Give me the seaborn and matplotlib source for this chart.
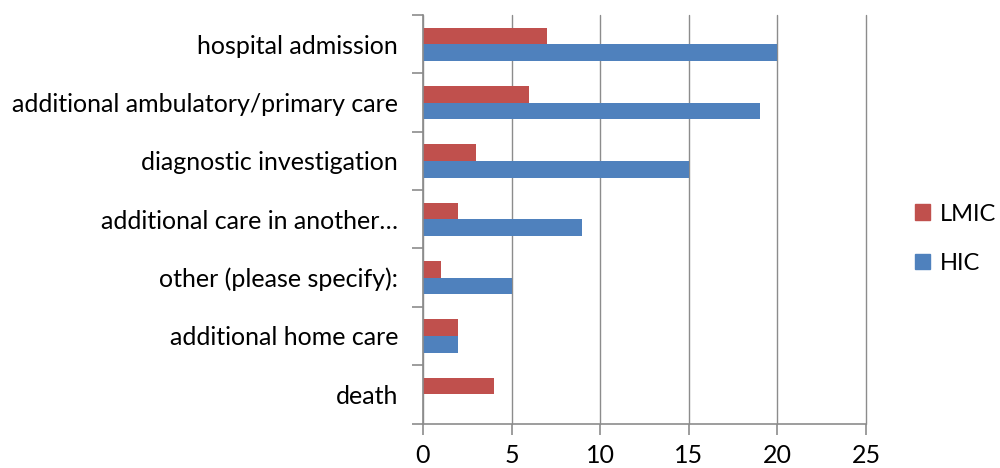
import pandas as pd
import numpy as np
import matplotlib.pyplot as plt
import seaborn as sns
from matplotlib.patches import Patch

categories = ["hospital admission", "additional ambulatory/primary care", "diagnostic investigation",
              "additional care in another…", "other (please specify):", "additional home care", "death"]
lmic = [7, 6, 3, 2, 1, 2, 4]
hic = [20, 19, 15, 9, 5, 2, 0]
groups = ["LMIC", "HIC"]
colors = {"LMIC": "#C0504D", "HIC": "#4F81BD"}

df = pd.DataFrame({
    "category": categories * 2,
    "group": ["LMIC"] * len(categories) + ["HIC"] * len(categories),
    "value": lmic + hic,
})

sns.set_style("white")
plt.rcParams['font.family'] = ['Lato', 'DejaVu Sans']
plt.rcParams['text.color'] = 'black'
plt.rcParams['xtick.labelcolor'] = 'black'
plt.rcParams['ytick.labelcolor'] = 'black'

fig = plt.figure(figsize=(10, 4.68), dpi=100)
ax = fig.add_axes([0.423, 0.095, 0.443, 0.873])

sns.barplot(data=df, x="value", y="category", hue="group", hue_order=groups,
            order=categories, palette=colors, width=0.57, ax=ax, legend=False,
            saturation=1, linewidth=0)

ax.set_xlim(0, 25)
ax.set_xticks(np.arange(0, 26, 5))
ax.xaxis.grid(True, color="#8c8c8c", linewidth=1)
ax.set_axisbelow(True)
for gl in ax.get_xgridlines():
    gl.set_clip_on(False)
ax.set_xlabel("")
ax.set_ylabel("")

for s in ["top", "right"]:
    ax.spines[s].set_visible(False)
for s in ["left", "bottom"]:
    ax.spines[s].set_color("#8c8c8c")
    ax.spines[s].set_linewidth(1.2)

# category ticks sit at the group boundaries, labels in between
n = len(categories)
ax.set_ylim(n - 0.5, -0.5)
ax.set_yticks(np.arange(-0.5, n, 1.0), minor=False)
ax.set_yticklabels([])
ax.set_yticks(np.arange(n), minor=True)
ax.set_yticklabels(categories, minor=True, fontsize=18)
ax.tick_params(axis="y", which="major", length=8, color="#8c8c8c", width=1.2, left=True)
ax.tick_params(axis="y", which="minor", length=0, pad=18, labelcolor="black")
ax.tick_params(axis="x", length=8, color="#8c8c8c", width=1.2, bottom=True, labelsize=18, pad=7,
               labelcolor="black")

handles = [Patch(color=colors[g], label=g) for g in groups]
fig.legend(handles=handles, loc="center left", bbox_to_anchor=(0.915, 0.49), frameon=False,
           fontsize=17, handlelength=0.65, handleheight=0.65, labelspacing=1.2, handletextpad=0.4,
           borderaxespad=0, borderpad=0, labelcolor="black")

fig.savefig("out.png", dpi=100)
